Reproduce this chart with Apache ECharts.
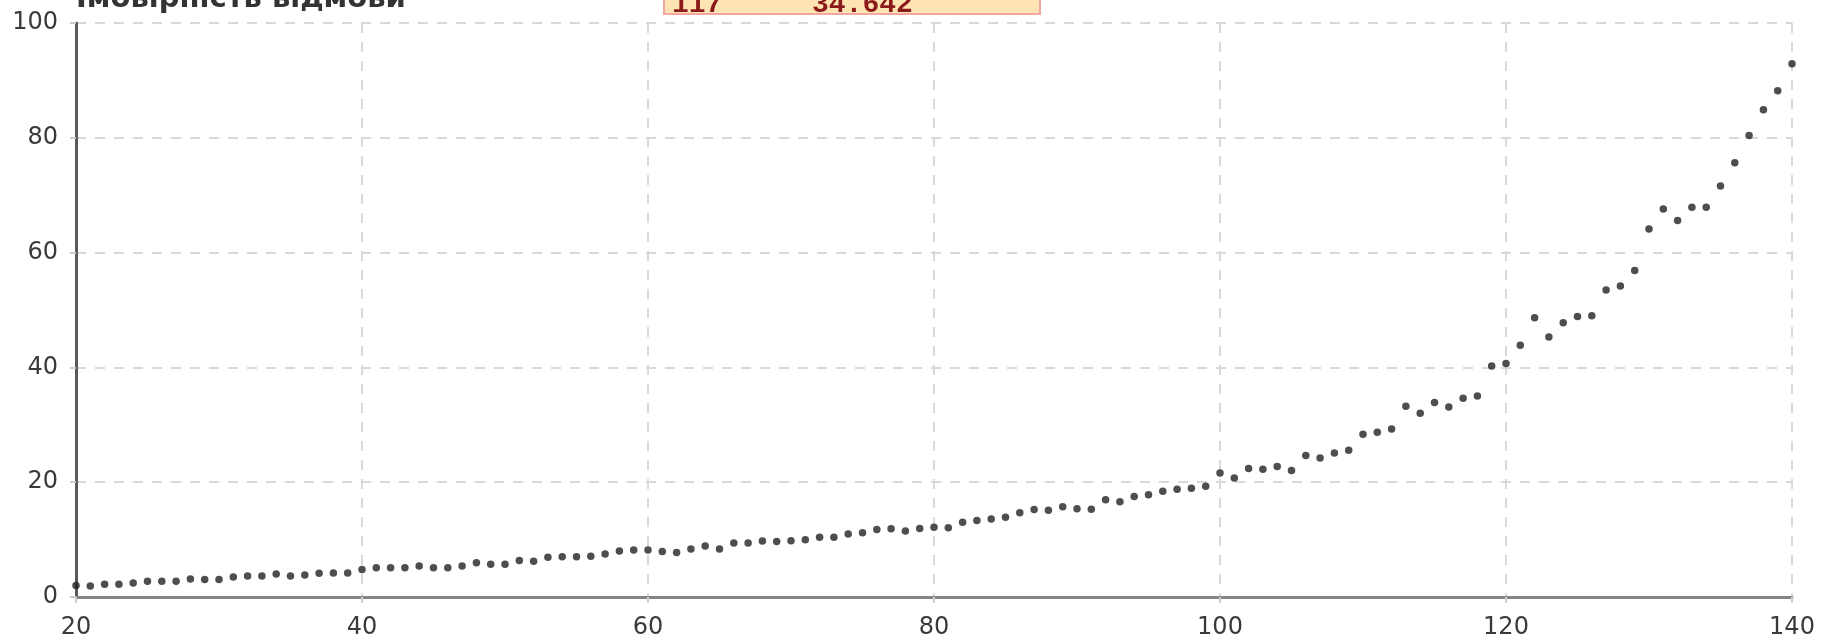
<!DOCTYPE html>
<html>
<head>
<meta charset="utf-8">
<script src="https://cdn.jsdelivr.net/npm/echarts@6/dist/echarts.min.js"></script>
<style>
html,body{margin:0;padding:0;background:#fff;}
#chart{width:1833px;height:642px;}
</style>
</head>
<body>
<div id="chart"></div>
<script>
const titleText = 'Імовірність відмови';
const xTicks = { min: 20, max: 140, interval: 20 };
const yTicks = { min: 0, max: 100, interval: 20 };
const xs = [20,21,22,23,24,25,26,27,28,29,30,31,32,33,34,35,36,37,38,39,
  40,41,42,43,44,45,46,47,48,49,50,51,52,53,54,55,56,57,58,59,
  60,61,62,63,64,65,66,67,68,69,70,71,72,73,74,75,76,77,78,79,
  80,81,82,83,84,85,86,87,88,89,90,91,92,93,94,95,96,97,98,99,
  100,101,102,103,104,105,106,107,108,109,110,111,112,113,114,115,116,117,118,119,
  120,121,122,123,124,125,126,127,128,129,130,131,132,133,134,135,136,137,138,139,140];
const values = [2.0,1.9,2.2,2.2,2.45,2.74,2.74,2.74,3.15,3.03,3.03,3.5,3.67,3.67,4.02,3.67,3.85,4.14,4.2,4.2,
  4.8,5.09,5.09,5.09,5.38,5.09,5.09,5.38,5.95,5.72,5.72,6.36,6.24,6.94,7.0,7.0,7.1,7.5,8.0,8.2,
  8.2,7.94,7.77,8.35,8.87,8.35,9.39,9.39,9.74,9.68,9.8,9.97,10.43,10.43,10.96,11.19,11.77,11.88,11.48,11.94,
  12.15,12.06,13.04,13.33,13.57,13.91,14.67,15.25,15.13,15.71,15.36,15.3,16.93,16.58,17.51,17.8,18.43,18.78,18.96,19.3,
  21.6,20.75,22.38,22.26,22.72,22.03,24.64,24.23,25.1,25.57,28.35,28.7,29.28,33.22,32.0,33.9,33.1,34.642,35.0,40.23,
  40.7,43.85,48.63,45.3,47.8,48.86,48.98,53.5,54.2,56.9,64.1,67.6,65.6,67.9,67.9,71.6,75.65,80.4,84.9,88.2,92.9];
const tipX = 117;

const points = xs.map((x, i) => [x, values[i]]);
const tipIndex = xs.indexOf(tipX);

const chart = echarts.init(document.getElementById('chart'), null, { renderer: 'canvas' });
const labelFont = { fontFamily: 'DejaVu Sans', fontSize: 24, color: '#3a3a3a' };
const gridLine = { show: true, lineStyle: { color: '#d9d9d9', width: 2, type: [10, 9] } };

chart.setOption({
  animation: false,
  backgroundColor: '#ffffff',
  grid: { left: 76, right: 41, top: 23, bottom: 45, containLabel: false },
  xAxis: {
    type: 'value', min: xTicks.min, max: xTicks.max, interval: xTicks.interval,
    axisLine: { show: true, onZero: false, lineStyle: { color: '#858585', width: 3 } },
    axisTick: { show: true, length: 6, lineStyle: { color: '#cccccc', width: 2 } },
    axisLabel: Object.assign({ margin: 19 }, labelFont),
    splitLine: gridLine
  },
  yAxis: {
    type: 'value', min: yTicks.min, max: yTicks.max, interval: yTicks.interval,
    axisLine: { show: true, onZero: false, lineStyle: { color: '#5a5a5a', width: 3 } },
    axisTick: { show: true, length: 6, lineStyle: { color: '#cccccc', width: 2 } },
    axisLabel: Object.assign({ margin: 18 }, labelFont),
    splitLine: gridLine
  },
  series: [{
    type: 'scatter',
    data: points,
    symbol: 'circle',
    symbolSize: 7.5,
    itemStyle: { color: '#222222' },
    clip: true,
    z: 5
  }],
  graphic: [
    {
      type: 'text', left: 76, top: -15, z: 10,
      style: { text: titleText, font: 'bold 29px "DejaVu Sans"', fill: '#333333' }
    },
    {
      type: 'rect', x: 664, y: -24, z: 10,
      shape: { width: 376, height: 38 },
      style: { fill: '#ffe4b3', stroke: '#f0a8a0', lineWidth: 2 }
    },
    {
      type: 'text', x: 672, y: -9, z: 11,
      style: { text: String(xs[tipIndex]), font: 'bold 28px "Liberation Mono"', fill: '#8b1a1a' }
    },
    {
      type: 'text', x: 812, y: -9, z: 11,
      style: { text: String(values[tipIndex]), font: 'bold 28px "Liberation Mono"', fill: '#8b1a1a' }
    }
  ]
});
</script>
</body>
</html>
